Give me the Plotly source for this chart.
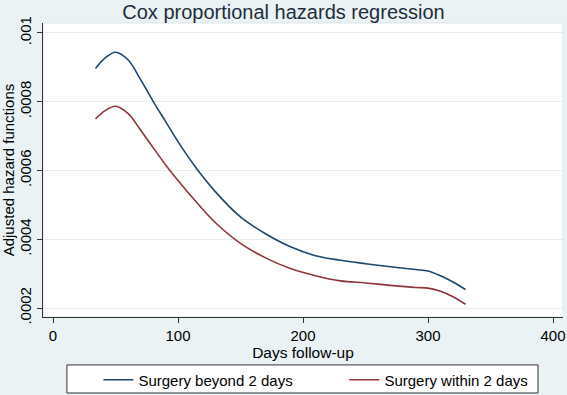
import plotly.graph_objects as go

days = [34, 42, 50, 60, 70, 80, 90, 100, 115, 130, 150, 170, 190, 210, 230, 250, 270, 290, 300, 310, 320, 330]
beyond = [0.000897, 0.000928, 0.000944, 0.000922, 0.000865, 0.000802, 0.000743, 0.000684, 0.000605, 0.000538,
          0.000465, 0.000416, 0.000378, 0.000352, 0.000339, 0.000329, 0.000320, 0.000312, 0.000308, 0.000294,
          0.000276, 0.000254]
within = [0.000750, 0.000775, 0.000787, 0.000766, 0.000718, 0.000667, 0.000617, 0.000571, 0.000507, 0.000448,
          0.000388, 0.000346, 0.000315, 0.000294, 0.000279, 0.000273, 0.000266, 0.000260, 0.000258, 0.000249,
          0.000233, 0.000211]
x_ticks = [0, 100, 200, 300, 400]
y_ticks = [0.0002, 0.0004, 0.0006, 0.0008, 0.001]
y_tick_labels = [".0002", ".0004", ".0006", ".0008", ".001"]

BG = "#EAF2F3"
font = "Liberation Sans, Arial, sans-serif"

fig = go.Figure()
fig.add_trace(go.Scatter(x=days, y=beyond, mode="lines", name="Surgery beyond 2 days",
                         line=dict(color="#1a476f", width=1.6, shape="spline")))
fig.add_trace(go.Scatter(x=days, y=within, mode="lines", name="Surgery within 2 days",
                         line=dict(color="#90353b", width=1.6, shape="spline")))

fig.update_layout(
    width=567, height=395,
    paper_bgcolor=BG, plot_bgcolor="white",
    margin=dict(l=43, r=4, t=23, b=78, autoexpand=False),
    font=dict(family=font, size=15, color="black"),
    title=dict(text="Cox proportional hazards regression", x=0.5, xanchor="center",
               y=0.969, yanchor="middle", yref="container",
               font=dict(size=20, color="#1e2d3b")),
    xaxis=dict(range=[-8, 408], tickvals=x_ticks, ticks="outside", ticklen=5, tickcolor="#333",
               showline=True, linecolor="#333", linewidth=1, showgrid=False, zeroline=False,
               automargin=False,
               title=dict(text="Days follow-up", standoff=0, font=dict(size=15.5)),
               tickfont=dict(size=15)),
    yaxis=dict(range=[0.000174, 0.001029], tickvals=y_ticks, ticktext=y_tick_labels, tickangle=-90,
               ticks="outside", ticklen=5, tickcolor="#333",
               showline=True, linecolor="#333", linewidth=1, showgrid=True, gridcolor="#E4EEF0",
               zeroline=False, automargin=False,
               title=dict(text="Adjusted hazard functions", standoff=0, font=dict(size=15)),
               tickfont=dict(size=15)),
    legend=dict(orientation="h", x=0.1065, xanchor="left", y=-0.158, yanchor="top",
                bgcolor="rgba(0,0,0,0)", borderwidth=0,
                font=dict(size=15), entrywidth=201, entrywidthmode="pixels"),
    showlegend=True,
)
fig.add_shape(type="rect", xref="paper", yref="paper", x0=0, x1=1, y0=0, y1=1,
              line=dict(color="#dde6e8", width=1), layer="below")
# legend frame
fig.add_shape(type="rect", xref="paper", yref="paper", x0=0.046, x1=0.952, y0=-0.2585, y1=-0.163,
              line=dict(color="#333", width=1), fillcolor="white", layer="below")

fig.write_html("out.html", config={"displayModeBar": False},
               post_script="document.body.style.margin='0px';document.body.style.background='" + BG + "';")
